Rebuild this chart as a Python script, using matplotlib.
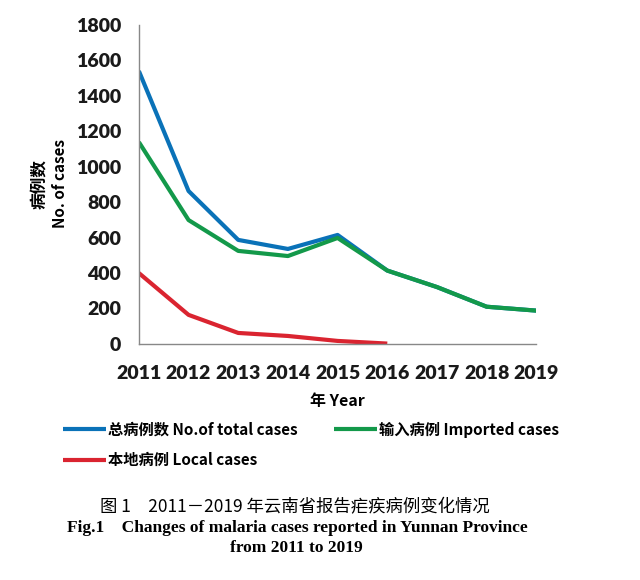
import matplotlib
matplotlib.use('Agg')
import matplotlib.pyplot as plt

years = [2011, 2012, 2013, 2014, 2015, 2016, 2017, 2018, 2019]
total = [1540, 863, 587, 536, 615, 414, 321, 210, 188]
imported = [1139, 699, 525, 496, 598, 414, 321, 210, 188]
local_years = [2011, 2012, 2013, 2014, 2015, 2016]
local = [400, 164, 62, 45, 17, 2]
yticks = [0, 200, 400, 600, 800, 1000, 1200, 1400, 1600, 1800]

cjk = ['Noto Sans CJK SC', 'DejaVu Sans']
lat = ['Lato', 'DejaVu Sans']

fig = plt.figure(figsize=(6.4, 5.8), dpi=100)
ax = fig.add_axes([0.217, 0.407, 0.621, 0.55])

l1, = ax.plot(years, total, color='#0A72B8', lw=3, solid_capstyle='butt')
l2, = ax.plot(years, imported, color='#13994A', lw=3, solid_capstyle='butt')
l3, = ax.plot(local_years, local, color='#DA2430', lw=3, solid_capstyle='butt')

ax.set_xlim(2011, 2019)
ax.set_ylim(0, 1800)
ax.set_xticks(years)
ax.set_yticks(yticks)
ax.tick_params(axis='y', length=0, pad=13)
ax.tick_params(axis='x', length=0, pad=15)
for t in ax.get_xticklabels() + ax.get_yticklabels():
    t.set_family(lat)
    t.set_fontweight('heavy')
    t.set_fontsize(14)
    t.set_color('#1a1a1a')
for s in ['top', 'right']:
    ax.spines[s].set_visible(False)
for s in ['left', 'bottom']:
    ax.spines[s].set_color('#888888')
    ax.spines[s].set_linewidth(1)

ax.set_xlabel('年 Year', family=cjk, fontweight='bold', fontsize=11.5, labelpad=8)
fig.text(0.062, 0.683, '病例数', rotation=90, ha='center', va='center',
         family=cjk, fontweight='bold', fontsize=12)
fig.text(0.094, 0.683, 'No. of cases', rotation=90, ha='center', va='center',
         family=cjk, fontweight='bold', fontsize=11)

leg = fig.legend([l1, l3, l2], ['总病例数 No.of total cases', '本地病例 Local cases', '输入病例 Imported cases'],
                 ncol=2, loc='upper left', bbox_to_anchor=(0.077, 0.297), frameon=False,
                 prop={'family': cjk, 'weight': 'bold', 'size': 11},
                 handlelength=2.8, handletextpad=0.15, columnspacing=2.4, labelspacing=0.95)

serif = ['Liberation Serif']
fig.text(0.46, 0.126, '图 1　2011－2019 年云南省报告疟疾病例变化情况', ha='center', va='center',
         family=['Noto Sans CJK SC'], fontsize=12.5)
fig.text(0.465, 0.090, 'Fig.1　Changes of malaria cases reported in Yunnan Province', ha='center', va='center',
         family=serif + ['Noto Sans CJK SC'], fontweight='bold', fontsize=12.5)
fig.text(0.4625, 0.055, 'from 2011 to 2019', ha='center', va='center',
         family=serif, fontweight='bold', fontsize=12.5)

fig.savefig('out.png', dpi=100)
